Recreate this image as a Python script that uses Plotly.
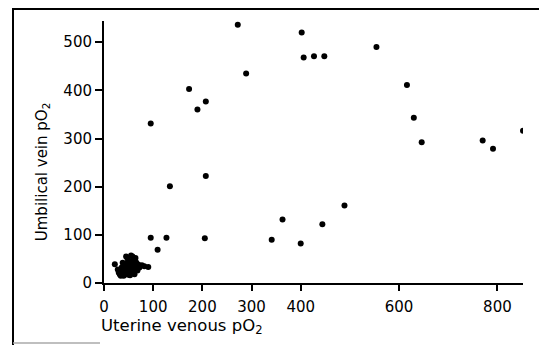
import plotly.graph_objects as go

# Scattered points (Uterine venous pO2, Umbilical vein pO2)
main_x = [272, 402, 406, 427, 448, 289, 554, 173, 190, 207, 95, 616, 630, 646, 770, 791, 852,
          207, 134, 95, 127, 205, 109, 341, 363, 400, 444, 489]
main_y = [536, 520, 468, 471, 471, 435, 490, 403, 360, 377, 331, 411, 343, 292, 296, 279, 316,
          222, 201, 94, 94, 93, 69, 90, 132, 82, 122, 161]

# Dense cluster near the origin
cluster_x = [22, 28, 30, 32, 35, 36, 38, 40, 40, 42, 43, 44, 45, 46, 47, 48, 48, 50, 50, 52, 52,
             53, 54, 55, 56, 57, 58, 58, 60, 60, 62, 62, 63, 64, 65, 66, 68, 70, 72, 77, 82, 90,
             45, 38, 55, 34, 50, 60]
cluster_y = [39, 28, 22, 18, 25, 32, 20, 28, 15, 35, 22, 30, 18, 40, 25, 50, 33, 20, 28, 38, 45,
             16, 30, 25, 42, 35, 55, 22, 30, 48, 38, 18, 27, 52, 33, 42, 26, 38, 32, 37, 35, 33,
             55, 42, 57, 15, 17, 20]

x_ticks = [0, 100, 200, 300, 400, 600, 800]
y_ticks = [0, 100, 200, 300, 400, 500]

# The page body has an 8px margin, so the figure is sized to fit the window.
W, H = 539, 337
L, T, PW, PH = 96, 13, 419, 262

fig = go.Figure()
fig.add_trace(go.Scatter(x=main_x + cluster_x, y=main_y + cluster_y, mode="markers",
                         marker=dict(color="black", size=6, line=dict(width=0)),
                         showlegend=False, hoverinfo="skip"))

tick_font = dict(family="DejaVu Sans, sans-serif", size=15, color="black")
ytitle_font = dict(family="DejaVu Sans, sans-serif", size=15, color="black")
xtitle_font = dict(family="DejaVu Sans, sans-serif", size=16.5, color="black")

def px_x(p):
    return (p - L) / PW

def px_y(p):
    return 1 - (p - T) / PH

fig.update_layout(
    width=W, height=H,
    margin=dict(l=L, r=W - L - PW, t=T, b=H - T - PH),
    paper_bgcolor="white", plot_bgcolor="white",
    font=tick_font,
    xaxis=dict(range=[0, 852], tickvals=x_ticks, showgrid=False, zeroline=False,
               showline=True, linecolor="black", linewidth=2,
               ticks="outside", ticklen=6, tickwidth=1.5, tickcolor="black",
               ticklabelstandoff=3, tickfont=tick_font),
    yaxis=dict(range=[0, 544], tickvals=y_ticks, showgrid=False, zeroline=False,
               showline=True, linecolor="black", linewidth=2,
               ticks="outside", ticklen=7, tickwidth=1.5, tickcolor="black",
               tickfont=tick_font),
    annotations=[
        dict(text="Umbilical vein pO<sub>2</sub>", xref="paper", yref="y", x=0, y=230,
             xanchor="center", yanchor="middle", xshift=-62, textangle=-90,
             showarrow=False, font=ytitle_font),
        dict(text="Uterine venous pO<sub>2</sub>", xref="x", yref="paper", x=0, y=0,
             xanchor="left", yanchor="top", xshift=-5, yshift=-31,
             showarrow=False, font=xtitle_font),
    ],
    shapes=[
        dict(type="line", xref="paper", yref="paper", x0=px_x(5), x1=px_x(W),
             y0=px_y(1), y1=px_y(1), line=dict(color="black", width=2)),
        dict(type="line", xref="paper", yref="paper", x0=px_x(5), x1=px_x(5),
             y0=px_y(0), y1=px_y(H), line=dict(color="black", width=2)),
        dict(type="line", xref="paper", yref="paper", x0=px_x(5), x1=px_x(92),
             y0=px_y(H - 2), y1=px_y(H - 2), line=dict(color="#aaaaaa", width=1.5)),
    ],
)

fig.write_html("out.html")
